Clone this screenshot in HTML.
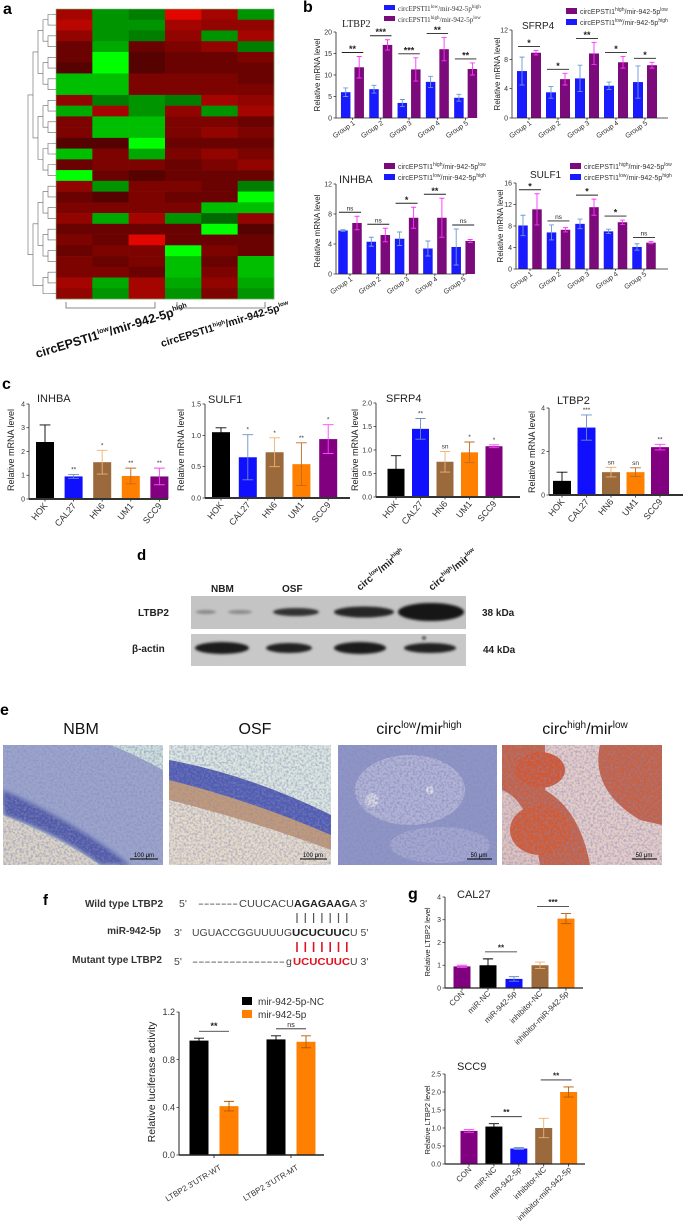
<!DOCTYPE html>
<html><head><meta charset="utf-8"><style>
html,body{margin:0;padding:0;background:#fff;}
svg{display:block;font-family:"Liberation Sans",sans-serif;}
</style></head><body>
<svg id="fig" width="685" height="1231" viewBox="0 0 685 1231" xmlns="http://www.w3.org/2000/svg">
<defs>
<filter id="tex" x="0" y="0" width="100%" height="100%"><feTurbulence type="fractalNoise" baseFrequency="0.45" numOctaves="2" seed="3"/><feColorMatrix type="matrix" values="0 0 0 0 0.25  0 0 0 0 0.25  0 0 0 0 0.5  0 0 0 2.6 -1.0"/></filter>
<filter id="blur2"><feGaussianBlur stdDeviation="2"/></filter>
<filter id="blur1"><feGaussianBlur stdDeviation="1.2"/></filter>
<clipPath id="c1"><rect x="3" y="745" width="160" height="120"/></clipPath>
<clipPath id="c2"><rect x="169" y="745" width="162" height="120"/></clipPath>
<clipPath id="c3"><rect x="338" y="745" width="159" height="120"/></clipPath>
<clipPath id="c4"><rect x="502" y="745" width="160" height="120"/></clipPath>
</defs>

<text x="3" y="14" font-size="16" font-weight="bold">a</text>
<text x="303" y="12" font-size="16" font-weight="bold">b</text>
<text x="2" y="389" font-size="16" font-weight="bold">c</text>
<text x="137" y="560" font-size="15" font-weight="bold">d</text>
<text x="0" y="715" font-size="16" font-weight="bold">e</text>
<text x="43" y="905" font-size="15" font-weight="bold">f</text>
<text x="408" y="899" font-size="16" font-weight="bold">g</text>

<g id="heatmap"></g>
<g id="dendro" stroke="#666" stroke-width="0.6" fill="none"></g>
<g stroke="#666" stroke-width="0.8" fill="none">
<path d="M66 302 V308 H155 V302"/><path d="M177 302 V308 H265 V302"/>
</g>
<text transform="translate(37,358) rotate(-17)" font-size="12.5" font-weight="bold" fill="#111">circEPSTI1<tspan font-size="7" dy="-5">low</tspan><tspan dy="5">/mir-942-5p</tspan><tspan font-size="7" dy="-5">high</tspan></text>
<text transform="translate(162,347) rotate(-17)" font-size="10.5" font-weight="bold" fill="#111">circEPSTI1<tspan font-size="6" dy="-4">high</tspan><tspan dy="4">/mir-942-5p</tspan><tspan font-size="6" dy="-4">low</tspan></text>

<g font-family="Liberation Serif, serif" font-size="7" fill="#333">
<rect x="384" y="5" width="11" height="5" fill="#1a1aff"/><text x="398" y="11">circEPSTI1<tspan font-size="5" dy="-3">low</tspan><tspan dy="3">/mir-942-5p</tspan><tspan font-size="5" dy="-3">high</tspan></text>
<rect x="384" y="16" width="11" height="5" fill="#7b0a7b"/><text x="398" y="22">circEPSTI1<tspan font-size="5" dy="-3">high</tspan><tspan dy="3">/mir-942-5p</tspan><tspan font-size="5" dy="-3">low</tspan></text>
</g>
<g font-size="7" fill="#333">
<rect x="566" y="8" width="11" height="6" fill="#7b0a7b"/><text x="580" y="14">circEPSTI1<tspan font-size="5" dy="-3">high</tspan><tspan dy="3">/mir-942-5p</tspan><tspan font-size="5" dy="-3">low</tspan></text>
<rect x="566" y="19" width="11" height="6" fill="#1a1aff"/><text x="580" y="25">circEPSTI1<tspan font-size="5" dy="-3">low</tspan><tspan dy="3">/mir-942-5p</tspan><tspan font-size="5" dy="-3">high</tspan></text>
</g>
<g font-size="7" fill="#333">
<rect x="384" y="163" width="11" height="6" fill="#7b0a7b"/><text x="398" y="169">circEPSTI1<tspan font-size="5" dy="-3">high</tspan><tspan dy="3">/mir-942-5p</tspan><tspan font-size="5" dy="-3">low</tspan></text>
<rect x="384" y="174" width="11" height="6" fill="#1a1aff"/><text x="398" y="180">circEPSTI1<tspan font-size="5" dy="-3">low</tspan><tspan dy="3">/mir-942-5p</tspan><tspan font-size="5" dy="-3">high</tspan></text>
</g>
<g font-size="7" fill="#333">
<rect x="570" y="163" width="11" height="6" fill="#7b0a7b"/><text x="584" y="169">circEPSTI1<tspan font-size="5" dy="-3">high</tspan><tspan dy="3">/mir-942-5p</tspan><tspan font-size="5" dy="-3">low</tspan></text>
<rect x="570" y="174" width="11" height="6" fill="#1a1aff"/><text x="584" y="180">circEPSTI1<tspan font-size="5" dy="-3">low</tspan><tspan dy="3">/mir-942-5p</tspan><tspan font-size="5" dy="-3">high</tspan></text>
</g>

<g id="charts"></g>

<g>
<rect x="191" y="596" width="275" height="33" fill="#c4c4c4"/>
<rect x="191" y="634" width="275" height="32" fill="#c8c8c8"/>
<g filter="url(#blur1)">
<ellipse cx="206" cy="612" rx="10" ry="2" fill="#888"/><ellipse cx="240" cy="612" rx="12" ry="2" fill="#8a8a8a"/>
<ellipse cx="296" cy="612" rx="23" ry="4" fill="#333"/>
<ellipse cx="364" cy="612" rx="30" ry="5.5" fill="#262626"/>
<ellipse cx="431" cy="612" rx="33" ry="9" fill="#141414"/>
<ellipse cx="222" cy="648" rx="27" ry="6" fill="#1e1e1e"/>
<ellipse cx="289" cy="648" rx="23" ry="5" fill="#222"/>
<ellipse cx="360" cy="648" rx="26" ry="6" fill="#1e1e1e"/>
<ellipse cx="430" cy="648" rx="26" ry="5" fill="#222"/>
<circle cx="424" cy="638" r="1.5" fill="#111"/>
</g>
</g>
<g font-size="10" font-weight="bold" fill="#222">
<text x="211" y="592">NBM</text>
<text x="282" y="592">OSF</text>
<text transform="translate(360,591) rotate(-40)">circ<tspan font-size="6" dy="-4">low</tspan><tspan dy="4">/mir</tspan><tspan font-size="6" dy="-4">high</tspan></text>
<text transform="translate(432,591) rotate(-40)">circ<tspan font-size="6" dy="-4">high</tspan><tspan dy="4">/mir</tspan><tspan font-size="6" dy="-4">low</tspan></text>
<text x="138" y="616">LTBP2</text>
<text x="132" y="652">β-actin</text>
<text x="482" y="616">38 kDa</text>
<text x="483" y="653">44 kDa</text>
</g>

<g font-size="16" fill="#111" text-anchor="middle">
<text x="81" y="734">NBM</text>
<text x="255" y="734">OSF</text>
<text x="419" y="734">circ<tspan font-size="10" dy="-6">low</tspan><tspan dy="6">/mir</tspan><tspan font-size="10" dy="-6">high</tspan></text>
<text x="585" y="734">circ<tspan font-size="10" dy="-6">high</tspan><tspan dy="6">/mir</tspan><tspan font-size="10" dy="-6">low</tspan></text>
</g>
<g clip-path="url(#c1)">
<rect x="3" y="745" width="160" height="120" fill="#cfe2dc"/>
<path d="M3 745 H110 Q130 752 163 770 V865 H120 Q70 830 3 805 Z" fill="#9ba6cc"/>
<path d="M3 790 Q60 815 110 850 L130 865 H100 Q60 835 3 815 Z" fill="#4f5aa8" filter="url(#blur2)"/>
<path d="M3 815 Q60 838 100 865 H3 Z" fill="#ddd6c6"/>
<rect x="3" y="745" width="160" height="120" filter="url(#tex)" opacity="0.6"/>
<line x1="130" y1="859" x2="158" y2="859" stroke="#000" stroke-width="1"/><text x="144" y="857" font-size="6" text-anchor="middle">100 μm</text>
</g>
<g clip-path="url(#c2)">
<rect x="169" y="745" width="162" height="120" fill="#dbe8e0"/>
<path d="M169 760 Q250 775 331 815 V865 H169 Z" fill="#c49a74"/>
<path d="M169 760 Q250 775 331 815 V835 Q250 800 169 780 Z" fill="#4f5cb2"/>
<path d="M169 800 Q250 820 331 850 V865 H169 Z" fill="#e6dcca"/>
<rect x="169" y="745" width="162" height="120" filter="url(#tex)" opacity="0.55"/>
<line x1="300" y1="859" x2="327" y2="859" stroke="#000" stroke-width="1"/><text x="313" y="857" font-size="6" text-anchor="middle">100 μm</text>
</g>
<g clip-path="url(#c3)">
<rect x="338" y="745" width="159" height="120" fill="#8e96c6"/>
<ellipse cx="410" cy="790" rx="55" ry="35" fill="#b2b4d6"/>
<ellipse cx="440" cy="845" rx="50" ry="18" fill="#a4a8d0"/>
<circle cx="372" cy="800" r="7" fill="#d6d6e4"/><circle cx="430" cy="790" r="4" fill="#dcdce8"/>
<rect x="338" y="745" width="159" height="120" filter="url(#tex)" opacity="0.7"/>
<line x1="467" y1="859" x2="492" y2="859" stroke="#000" stroke-width="1"/><text x="479" y="857" font-size="6" text-anchor="middle">50 μm</text>
</g>
<g clip-path="url(#c4)">
<rect x="502" y="745" width="160" height="120" fill="#c96040"/>
<path d="M545 745 H600 Q590 790 640 820 L662 825 V865 H590 Q580 810 545 790 Z" fill="#e6cec8"/>
<path d="M502 790 Q530 800 540 865 H502 Z" fill="#e2c4bc"/>
<ellipse cx="540" cy="770" rx="25" ry="18" fill="#d4562e"/>
<ellipse cx="540" cy="830" rx="30" ry="25" fill="#d45a30"/>
<rect x="502" y="745" width="160" height="120" filter="url(#tex)" opacity="0.55"/>
<line x1="632" y1="859" x2="657" y2="859" stroke="#000" stroke-width="1"/><text x="644" y="857" font-size="6" text-anchor="middle">50 μm</text>
</g>

<g font-size="10" font-weight="bold" fill="#333" text-anchor="end">
<text x="163" y="907">Wild type LTBP2</text>
<text x="161" y="934">miR-942-5p</text>
<text x="162" y="963">Mutant type LTBP2</text>
</g>
<g font-size="10.5" fill="#444">
<text x="179" y="907">5'</text>
<text x="198" y="907" textLength="40" lengthAdjust="spacingAndGlyphs">-------</text>
<text x="239" y="907" textLength="55" lengthAdjust="spacingAndGlyphs">CUUCACU</text>
<text x="294" y="907" textLength="56" lengthAdjust="spacingAndGlyphs" font-weight="bold" fill="#222">AGAGAAG</text>
<text x="350" y="907">A 3'</text>
<text x="174" y="936">3'</text>
<text x="192" y="936" textLength="100" lengthAdjust="spacingAndGlyphs">UGUACCGGUUUUG</text>
<text x="292" y="936" textLength="58" lengthAdjust="spacingAndGlyphs" font-weight="bold" fill="#222">UCUCUUC</text>
<text x="350" y="936">U  5'</text>
<text x="174" y="965">5'</text>
<text x="192" y="965" textLength="93" lengthAdjust="spacingAndGlyphs">---------------</text>
<text x="286" y="965">g</text>
<text x="293" y="965" textLength="57" lengthAdjust="spacingAndGlyphs" font-weight="bold" fill="#e0141e">UCUCUUC</text>
<text x="350" y="965">U 3'</text>
</g>
<g id="pairlines"></g>

<g font-size="10" fill="#333">
<rect x="242" y="997" width="10" height="8" fill="#000"/><text x="258" y="1005">mir-942-5p-NC</text>
<rect x="242" y="1010" width="10" height="8" fill="#ff8000"/><text x="258" y="1018">mir-942-5p</text>
</g>
</svg>
<script>
const NS='http://www.w3.org/2000/svg';
function mk(tag,attrs,parent){const e=document.createElementNS(NS,tag);for(const k in attrs)e.setAttribute(k,attrs[k]);parent.appendChild(e);return e;}

const heatRows=[
[0.6,-0.5,-0.4,0.9,0.6,-0.5],[0.7,-0.5,-0.5,0.6,0.5,0.5],[0.5,-0.5,-0.4,0.5,-0.5,0.6],
[0.3,-0.6,0.3,0.4,0.5,-0.4],[0.3,-1,0.2,0.3,0.3,0.4],[0.2,-1,0.2,0.3,0.3,0.3],
[-0.7,-0.7,0.4,0.4,0.4,0.3],[-0.7,-0.7,0.4,0.4,0.4,0.4],[0.5,-0.4,-0.5,-0.4,0.6,0.5],
[-0.6,0.6,-0.5,0.5,-0.5,0.6],[0.4,-0.7,-0.7,0.4,0.4,0.3],[0.4,-0.7,-0.7,0.4,0.5,0.4],
[0.2,0.2,-1,0.3,0.3,0.3],[-0.7,0.4,-0.6,0.4,0.5,0.4],[0.3,0.4,0.4,0.3,0.4,0.5],
[-1,0.3,0.2,0.3,0.3,0.3],[0.5,-0.5,0.4,0.4,0.3,-0.4],[0.3,0.2,0.4,0.3,0.3,-1],
[0.4,0.4,0.4,0.4,-0.7,-0.7],[0.5,-0.6,0.6,-0.5,-0.3,0.5],[0.3,0.3,0.3,0.3,-1,0.2],
[0.4,0.3,0.9,0.3,0.3,0.3],[0.3,0.4,0.4,-1,0.4,0.3],[0.4,0.3,0.4,-0.7,0.3,-0.7],
[0.4,0.4,0.3,-0.7,0.4,-0.7],[0.6,-0.6,0.6,-0.6,0.5,-0.6],[0.5,-0.5,0.6,-0.5,0.4,-0.5]];

const bGroups=['Group 1','Group 2','Group 3','Group 4','Group 5'];
const ltbp2BTicks=[0,5,10,15,20];
const ltbp2Blue=[6,6.7,3.5,8.4,4.7];const ltbp2BlueErr=[1,0.9,0.8,1.3,0.8];
const ltbp2Purple=[11.8,17,11.3,16,11.4];const ltbp2PurpleErr=[2.5,1.2,2.7,2.7,1.4];
const ltbp2BSig=['**','***','***','**','**'];
const sfrp4BTicks=[0,4,8,12];
const sfrp4Blue=[6.4,3.5,5.4,4.4,4.9];const sfrp4BlueErr=[1.9,0.8,1.8,0.5,2.2];
const sfrp4Purple=[8.9,5.3,8.8,7.6,7.2];const sfrp4PurpleErr=[0.3,0.8,1.5,0.8,0.4];
const sfrp4BSig=['*','*','**','*','*'];
const inhbaBTicks=[0,4,8,12];
const inhbaBlue=[5.8,4.3,4.7,3.4,3.6];const inhbaBlueErr=[0.1,0.6,0.9,1.0,2.4];
const inhbaPurple=[6.8,5.2,7.5,7.5,4.4];const inhbaPurpleErr=[0.9,0.9,1.4,2.6,0.2];
const inhbaBSig=['ns','ns','*','**','ns'];
const sulf1BTicks=[0,4,8,12,16];
const sulf1Blue=[8.1,6.8,8.4,7.0,4.1];const sulf1BlueErr=[1.9,1.4,0.9,0.4,0.6];
const sulf1Purple=[11.1,7.3,11.5,8.7,4.9];const sulf1PurpleErr=[2.9,0.4,1.5,0.4,0.2];
const sulf1BSig=['*','ns','*','*','ns'];

const cCells=['HOK','CAL27','HN6','UM1','SCC9'];
const inhbaCTicks=[0,1,2,3,4];const inhbaC=[2.4,0.95,1.55,0.97,0.95];const inhbaCErr=[0.72,0.08,0.5,0.33,0.35];const inhbaCSig=['','**','*','**','**'];
const sulf1CTicks=[0,0.5,1.0,1.5];const sulf1C=[1.05,0.65,0.73,0.54,0.94];const sulf1CErr=[0.07,0.36,0.23,0.34,0.23];const sulf1CSig=['','*','*','**','*'];
const sfrp4CTicks=[0,0.5,1.0,1.5,2.0];const sfrp4C=[0.6,1.45,0.75,0.95,1.08];const sfrp4CErr=[0.28,0.22,0.22,0.22,0.03];const sfrp4CSig=['','**','sn','*','*'];
const ltbp2CTicks=[0,2,4];const ltbp2C=[0.65,3.1,1.05,1.05,2.2];const ltbp2CErr=[0.4,0.58,0.22,0.2,0.13];const ltbp2CSig=['','***','sn','sn','**'];

const fCats=["LTBP2  3'UTR-WT","LTBP2  3'UTR-MT"];
const fTicks=[0,0.4,0.8,1.2];
const fNC=[0.96,0.97];const fNCErr=[0.02,0.03];
const fMir=[0.41,0.95];const fMirErr=[0.04,0.05];
const fSig=['**','ns'];

const gCats=['CON','miR-NC','miR-942-5p','inhibitor-NC','inhibitor-miR-942-5p'];
const cal27Ticks=[0,1,2,3,4];const cal27Vals=[0.95,1.0,0.4,1.0,3.05];const cal27Err=[0.05,0.28,0.1,0.14,0.22];
const scc9Ticks=[0,0.5,1.0,1.5,2.0,2.5];const scc9Vals=[0.92,1.04,0.43,1.0,2.0];const scc9Err=[0.04,0.08,0.03,0.27,0.14];
const gSigPairs=[[1,2,'**'],[3,4,'***']];
const scc9SigPairs=[[1,2,'**'],[3,4,'**']];

(function(){
  const hm=document.getElementById('heatmap');
  const x0=56,x1=274,y0=9,y1=299,nr=heatRows.length,nc=6;
  const rh=(y1-y0)/nr,cw=(x1-x0)/nc;
  heatRows.forEach((row,r)=>row.forEach((v,c)=>{
    const col=v>=0?`rgb(${Math.round(45+200*v)},${Math.round(8*v)},0)`:`rgb(0,${Math.round(40+215*(-v))},0)`;
    const e=mk('rect',{x:x0+c*cw,y:y0+r*rh,width:cw+0.3,height:rh+0.3,fill:col},hm);
    
    
  }));
  mk('rect',{x:x0,y:y0,width:x1-x0,height:y1-y0,fill:'none',stroke:'#7fbf7f','stroke-width':0.6},hm);
  const dg=document.getElementById('dendro');
  let nodes=heatRows.map((_,r)=>({y:y0+(r+0.5)*rh,x:x0-1}));
  nodes.forEach(n=>mk('path',{d:`M${x0} ${n.y} H${x0-4}`},dg));
  nodes.forEach(n=>n.x=x0-4);
  let lev=0;
  while(nodes.length>1){
    const nx=x0-8-lev*5;const next=[];
    for(let i=0;i<nodes.length;i+=2){
      if(i+1<nodes.length){const a=nodes[i],b=nodes[i+1];
        mk('path',{d:`M${a.x} ${a.y} H${nx} V${b.y} H${b.x}`},dg);
        next.push({x:nx,y:(a.y+b.y)/2});}
      else next.push(nodes[i]);
    }
    nodes=next;lev++;
  }
})();

const charts=document.getElementById('charts');
function yS(L){return v=>L.y0-(v/L.max)*(L.y0-L.yTop);}
function axes(g,L,ticks,fmt,name){
  const y=yS(L);
  const ya=mk('line',{x1:L.ax,y1:L.y0,x2:L.ax,y2:y(L.max),stroke:L.axc||'#222','stroke-width':L.axw||0.8},g);
  
  
  const xa=mk('line',{x1:L.ax,y1:L.y0,x2:L.xEnd,y2:L.y0,stroke:L.axc||'#222','stroke-width':L.xw||L.axw||0.8},g);
  
  
  ticks.forEach(t=>{
    mk('line',{x1:L.ax-2.5,y1:y(t),x2:L.ax,y2:y(t),stroke:'#222','stroke-width':0.7},g);
    const tx=mk('text',{x:L.ax-4,y:y(t)+L.tf*0.35,'font-size':L.tf,'text-anchor':'end',fill:'#333'},g);
    tx.textContent=fmt(t);
    
    
  });
  const yt=mk('text',{transform:`translate(${L.ytx},${L.yty}) rotate(-90)`,'font-size':L.ytf,'text-anchor':'middle',fill:'#222'},g);
  yt.textContent=L.ytitle;
  
  
  if(L.title){
    const tt=mk('text',{x:L.tx,y:L.ty,'font-size':L.tfs,fill:'#222','font-family':L.tfam||'Liberation Sans, sans-serif'},g);
    tt.textContent=L.title;
    
    
  }
}
function errbar(g,cx,v,e,y,cw,col){
  mk('path',{d:`M${cx} ${y(v-e)} V${y(v+e)} M${cx-cw} ${y(v+e)} H${cx+cw} M${cx-cw} ${y(v-e)} H${cx+cw}`,stroke:col,'stroke-width':0.9,fill:'none'},g);
}
function xlabel(g,x,y,txt,fs,ang,name){
  const t=mk('text',{transform:`translate(${x},${y}) rotate(${ang})`,'font-size':fs,'text-anchor':'end',fill:'#333'},g);
  t.textContent=txt;
  
  
}
function grouped(name,L,cats,ticks,blue,blueErr,purple,purpleErr,sig){
  const g=mk('g',{},charts);
  
  
  const y=yS(L);
  cats.forEach((c,i)=>{
    const cb=L.first+i*L.spacing,cp=cb+L.pairOff;
    const b=mk('rect',{x:cb-L.bw/2,y:y(blue[i]),width:L.bw,height:L.y0-y(blue[i]),fill:'#1a1aff'},g);
    
    
    const p=mk('rect',{x:cp-L.bw/2,y:y(purple[i]),width:L.bw,height:L.y0-y(purple[i]),fill:'#7b0a7b'},g);
    
    
    errbar(g,cb,blue[i],blueErr[i],y,2.5,'#6f9ad0');
    errbar(g,cp,purple[i],purpleErr[i],y,2.5,'#ff33ff');
    const top=Math.min(y(blue[i]+blueErr[i]),y(purple[i]+purpleErr[i]))-4;
    mk('line',{x1:cb-4,y1:top,x2:cp+4,y2:top,stroke:'#222','stroke-width':0.9},g);
    const s=mk('text',{x:(cb+cp)/2,y:sig[i]==='ns'?top-2:top-0.5,'font-size':sig[i]==='ns'?6.5:9,'font-weight':sig[i]==='ns'?'normal':'bold','text-anchor':'middle',fill:'#222'},g);
    s.textContent=sig[i];
    
    
    mk('line',{x1:(cb+cp)/2,y1:L.y0,x2:(cb+cp)/2,y2:L.y0+2,stroke:'#222','stroke-width':0.7},g);
    xlabel(g,(cb+cp)/2+3,L.y0+6,c,7,-35,'x-tick-label');
  });
  axes(g,L,ticks,t=>String(t),name);
}
function single(name,L,cats,ticks,fmt,vals,errs,sig,cols,ecols){
  const g=mk('g',{},charts);
  
  
  const y=yS(L);
  cats.forEach((c,i)=>{
    const cx=L.first+i*L.spacing;
    const b=mk('rect',{x:cx-L.bw/2,y:y(vals[i]),width:L.bw,height:L.y0-y(vals[i]),fill:cols[i]},g);
    
    
    errbar(g,cx,vals[i],errs[i],y,L.bw*0.3,ecols[i]);
    if(sig&&sig[i]){
      const s=mk('text',{x:cx,y:y(vals[i]+errs[i])-3,'font-size':L.sf||6.5,'text-anchor':'middle',fill:'#333'},g);
      s.textContent=sig[i];
      
      
    }
    mk('line',{x1:cx,y1:L.y0,x2:cx,y2:L.y0+2.5,stroke:'#222','stroke-width':0.8},g);
    xlabel(g,cx+L.lx,L.y0+L.ly,c,L.xf,L.ang,'x-tick-label');
  });
  axes(g,L,ticks,fmt,name);
  return g;
}
function pairSig(g,L,pairs,vals,errs){
  const y=yS(L);
  pairs.forEach(([a,b,s])=>{
    const ca=L.first+a*L.spacing,cb=L.first+b*L.spacing;
    const top=Math.min(y(vals[a]+errs[a]),y(vals[b]+errs[b]))-7;
    mk('line',{x1:ca-3,y1:top,x2:cb+3,y2:top,stroke:'#222','stroke-width':0.8},g);
    const t=mk('text',{x:(ca+cb)/2,y:top-1.5,'font-size':8,'font-weight':'bold','text-anchor':'middle',fill:'#222'},g);
    t.textContent=s;
    
    
  });
}

grouped('b-ltbp2',{ax:336,y0:118,yTop:32,max:20,xEnd:468,first:345.7,spacing:28.3,pairOff:13.5,bw:9.5,tf:7,ytx:320,yty:75,ytf:8,ytitle:'Relative  mRNA level',title:'LTBP2',tx:342,ty:27,tfs:10,tfam:'Liberation Serif, serif'},bGroups,ltbp2BTicks,ltbp2Blue,ltbp2BlueErr,ltbp2Purple,ltbp2PurpleErr,ltbp2BSig);
grouped('b-sfrp4',{ax:512,y0:118,yTop:30,max:12,xEnd:668,first:522,spacing:29,pairOff:14,bw:10,tf:7,ytx:500,yty:74,ytf:8,ytitle:'Relative  mRNA level',title:'SFRP4',tx:522,ty:29,tfs:10},bGroups,sfrp4BTicks,sfrp4Blue,sfrp4BlueErr,sfrp4Purple,sfrp4PurpleErr,sfrp4BSig);
grouped('b-inhba',{ax:336,y0:274,yTop:184,max:12,xEnd:467,first:343,spacing:28.3,pairOff:14,bw:9.5,tf:7,ytx:320,yty:231,ytf:8,ytitle:'Relative mRNA  level',title:'INHBA',tx:339,ty:183,tfs:11},bGroups,inhbaBTicks,inhbaBlue,inhbaBlueErr,inhbaPurple,inhbaPurpleErr,inhbaBSig);
grouped('b-sulf1',{ax:516,y0:269,yTop:183,max:16,xEnd:668,first:523,spacing:28.5,pairOff:14,bw:9.5,tf:7,ytx:503,yty:226,ytf:8,ytitle:'Relative mRNA  level',title:'SULF1',tx:530,ty:178,tfs:10},bGroups,sulf1BTicks,sulf1Blue,sulf1BlueErr,sulf1Purple,sulf1PurpleErr,sulf1BSig);

const cCols=['#000000','#1010ff','#9b6a3c','#ff8000','#800080'];
const cErrCols=['#000000','#6a8fc8','#f0b070','#c06a20','#ff40ff'];
const cBase={tf:7,ytf:9,xf:9,ang:-50,lx:3,ly:7,axc:'#333',axw:0.9,xw:2,tfs:11,sf:6.5};
single('c-inhba',Object.assign({},cBase,{ax:29,y0:499,yTop:404,max:4,xEnd:168,first:45,spacing:28.6,bw:18,ytx:14,yty:450,ytitle:'Relative mRNA  level',title:'INHBA',tx:37,ty:402}),cCells,inhbaCTicks,t=>String(t),inhbaC,inhbaCErr,inhbaCSig,cCols,cErrCols);
single('c-sulf1',Object.assign({},cBase,{ax:205,y0:498,yTop:404,max:1.5,xEnd:350,first:221,spacing:26.8,bw:18,ytx:184,yty:450,ytitle:'Relative mRNA  level',title:'SULF1',tx:208,ty:403}),cCells,sulf1CTicks,t=>t.toFixed(1),sulf1C,sulf1CErr,sulf1CSig,cCols,cErrCols);
single('c-sfrp4',Object.assign({},cBase,{ax:376,y0:497,yTop:403,max:2.0,xEnd:520,first:396,spacing:24.5,bw:17,ytx:358,yty:450,ytitle:'Relative mRNA  level',title:'SFRP4',tx:386,ty:402}),cCells,sfrp4CTicks,t=>t.toFixed(1),sfrp4C,sfrp4CErr,sfrp4CSig,cCols,cErrCols);
single('c-ltbp2',Object.assign({},cBase,{ax:549,y0:495,yTop:408,max:4,xEnd:683,first:562,spacing:24.5,bw:18,ytx:535,yty:452,ytitle:'Relative mRNA  level',title:'LTBP2',tx:557,ty:404}),cCells,ltbp2CTicks,t=>String(t),ltbp2C,ltbp2CErr,ltbp2CSig,cCols,cErrCols);

(function(){
  const L={ax:179,y0:1155,yTop:1012,max:1.2,xEnd:324,tf:9,ytx:155,yty:1082,ytf:10.5,ytitle:'Relative luciferase activity',axc:'#222',axw:1,xw:1.5};
  const g=mk('g',{},charts);
  
  
  const y=yS(L);const centers=[214,291];
  fCats.forEach((c,i)=>{
    const cx=centers[i];
    const a=mk('rect',{x:cx-24.5,y:y(fNC[i]),width:19,height:L.y0-y(fNC[i]),fill:'#000'},g);
    
    
    const b=mk('rect',{x:cx+5.5,y:y(fMir[i]),width:19,height:L.y0-y(fMir[i]),fill:'#ff8000'},g);
    
    
    errbar(g,cx-15,fNC[i],fNCErr[i],y,5,'#000');
    errbar(g,cx+15,fMir[i],fMirErr[i],y,5,'#b35a00');
    const top=y(Math.max(fNC[i]+fNCErr[i],fMir[i]+fMirErr[i]))-7;
    mk('line',{x1:cx-15,y1:top,x2:cx+15,y2:top,stroke:'#222','stroke-width':0.8},g);
    const s=mk('text',{x:cx,y:top-2,'font-size':fSig[i]==='ns'?7:9,'font-weight':fSig[i]==='ns'?'normal':'bold','text-anchor':'middle',fill:'#222'},g);
    s.textContent=fSig[i];
    
    
    mk('line',{x1:cx,y1:L.y0,x2:cx,y2:L.y0+3,stroke:'#222','stroke-width':0.9},g);
    xlabel(g,cx+8,L.y0+14,c,8,-31,'x-tick-label');
  });
  axes(g,L,fTicks,t=>t.toFixed(1),'luciferase');
})();

const gCols=['#800080','#000000','#1010ff','#9b6a3c','#ff8000'];
const gErrCols=['#ff40ff','#000000','#6a8fc8','#f0b070','#b35a00'];
const gBase={tf:7,ytf:7.5,xf:8,ang:-45,lx:3,ly:6,axc:'#222',axw:0.9,xw:1.3,tfs:11};
const gc=single('g-cal27',Object.assign({},gBase,{ax:445,y0:988,yTop:897,max:4,xEnd:583,first:462,spacing:26,bw:17,ytx:430,yty:942,ytitle:'Relative  LTBP2 level',title:'CAL27',tx:457,ty:898}),gCats,cal27Ticks,t=>String(t),cal27Vals,cal27Err,null,gCols,gErrCols);
pairSig(gc,{y0:988,yTop:897,max:4,first:462,spacing:26},gSigPairs,cal27Vals,cal27Err);
const gs=single('g-scc9',Object.assign({},gBase,{ax:445,y0:1164,yTop:1074,max:2.5,xEnd:585,first:469,spacing:24.9,bw:17,ytx:430,yty:1120,ytitle:'Relative  LTBP2 level',title:'SCC9',tx:457,ty:1070}),gCats,scc9Ticks,t=>t.toFixed(1),scc9Vals,scc9Err,null,gCols,gErrCols);
pairSig(gs,{y0:1164,yTop:1074,max:2.5,first:469,spacing:24.9},scc9SigPairs,scc9Vals,scc9Err);

(function(){
  const pl=document.getElementById('pairlines');
  for(let i=0;i<7;i++){
    const x=297+i*8.3;
    const a=mk('line',{x1:x,y1:913,x2:x,y2:923,stroke:'#555','stroke-width':1.2},pl);
    
    
    const b=mk('line',{x1:x,y1:942,x2:x,y2:952,stroke:'#e0141e','stroke-width':1.6},pl);
    
    
  }
})();
</script>
</body></html>
